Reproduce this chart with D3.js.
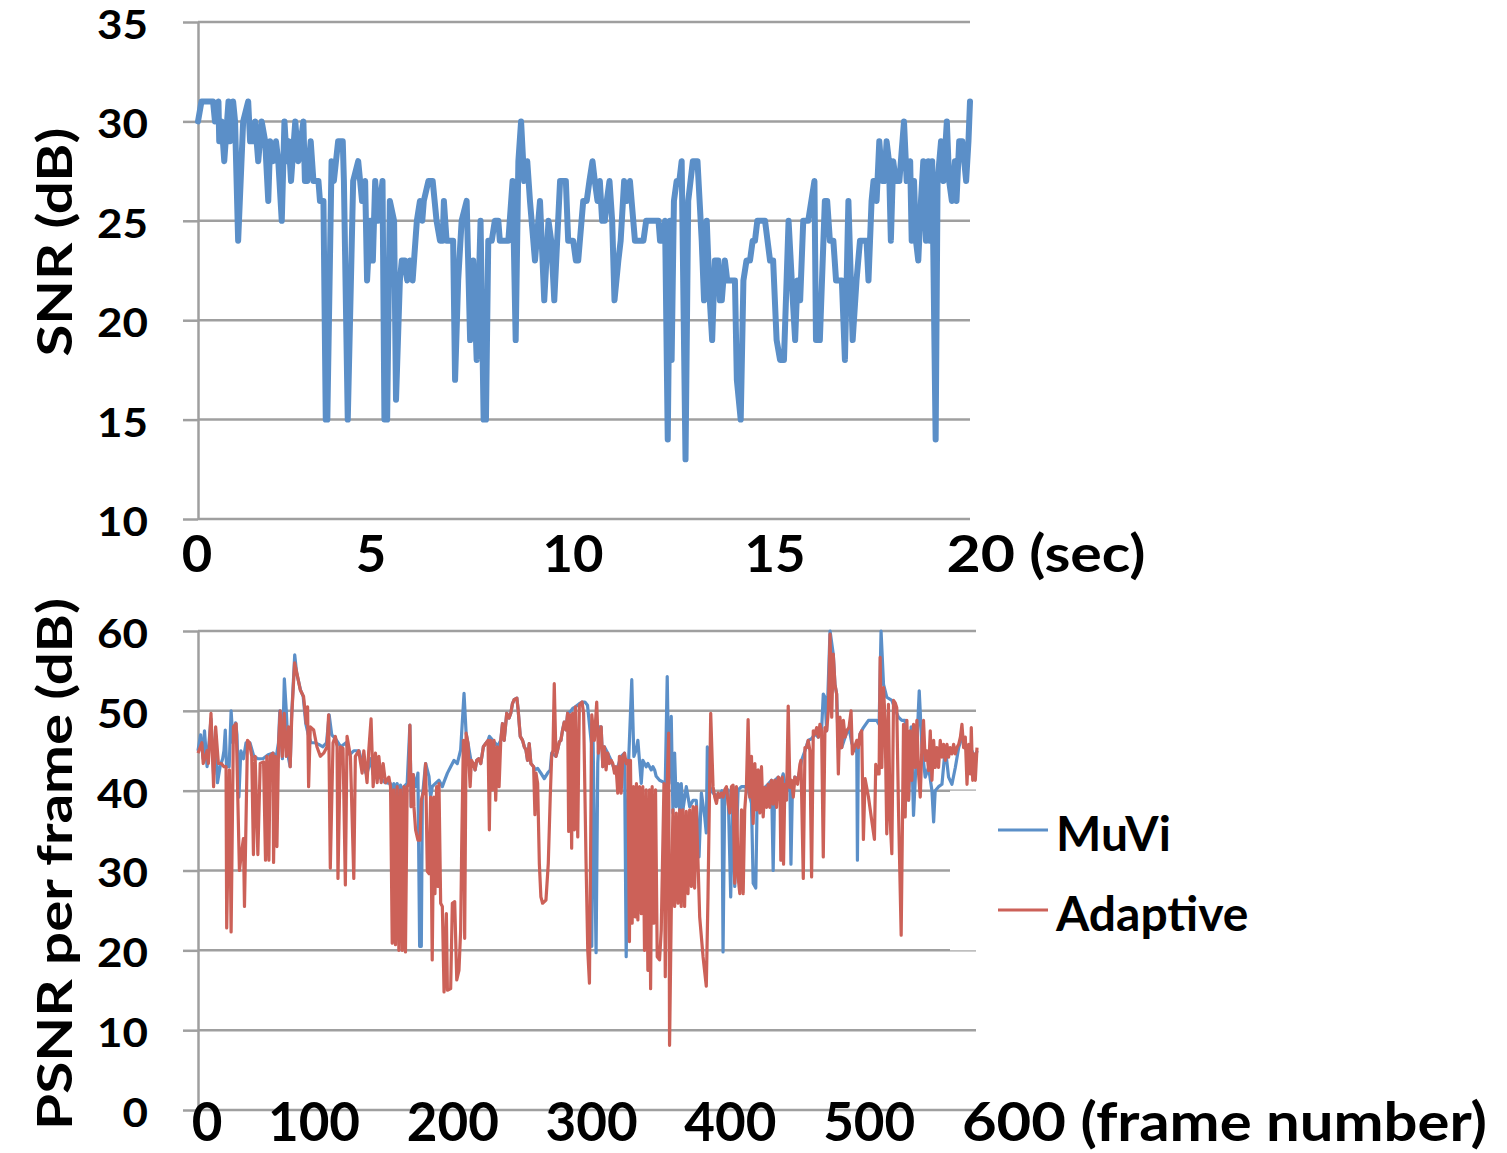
<!DOCTYPE html>
<html>
<head>
<meta charset="utf-8">
<script src="https://cdn.jsdelivr.net/npm/d3@7"></script>
<style>
  body { margin: 0; background: #fff; }
  text { font-family: Lato, "Open Sans", sans-serif; font-weight: 700; fill: #000; }
</style>
</head>
<body>
<script>
// ---- data ----
// SNR per time, [sec, dB]
const snrSeries = [
  [0,30],[0.09,31],[0.39,31],[0.44,30],[0.53,31],[0.55,29],[0.61,30],[0.68,28],[0.79,31],[0.83,29],[0.91,31],[0.96,30],
  [1.04,24],[1.17,30],[1.3,31],[1.35,29],[1.42,29],[1.48,30],[1.56,28],[1.65,30],[1.74,29],[1.82,26],[1.87,29],[1.95,28],
  [2.02,29],[2.08,28],[2.17,25],[2.24,30],[2.3,28],[2.35,29],[2.41,27],[2.52,30],[2.6,28],[2.73,30],[2.77,27],[2.83,27],
  [2.92,29],[2.99,27],[3.12,27],[3.16,26],[3.25,26],[3.31,15],[3.35,15],[3.46,28],[3.52,27],[3.63,29],[3.75,29],[3.78,27],
  [3.88,15],[4.02,27],[4.15,28],[4.2,27],[4.25,26],[4.33,27],[4.38,22],[4.46,25],[4.53,23],[4.59,27],[4.67,25],[4.78,27],
  [4.83,15],[4.9,15],[4.97,26],[5.08,25],[5.13,16],[5.23,22],[5.28,23],[5.36,23],[5.42,22],[5.49,23],[5.56,22],[5.67,25],
  [5.75,26],[5.81,25],[5.85,26],[5.97,27],[6.08,27],[6.18,25],[6.27,24],[6.34,24],[6.37,26],[6.44,24],[6.61,24],[6.66,17],
  [6.74,22],[6.83,25],[6.96,26],[7.05,19],[7.13,23],[7.22,18],[7.32,25],[7.4,15],[7.46,15],[7.52,24],[7.61,24],[7.69,25],
  [7.78,25],[7.82,24],[8.04,24],[8.15,27],[8.23,19],[8.3,28],[8.37,30],[8.45,27],[8.53,28],[8.6,26],[8.73,23],[8.86,26],
  [8.97,21],[9.08,25],[9.15,24],[9.23,21],[9.38,27],[9.53,27],[9.59,24],[9.72,24],[9.79,23],[9.85,23],[9.98,26],[10.07,26],
  [10.14,27],[10.22,28],[10.28,27],[10.35,26],[10.41,27],[10.47,25],[10.54,25],[10.59,26],[10.66,27],[10.73,25],[10.79,21],
  [10.89,23],[10.95,24],[11.04,27],[11.11,26],[11.19,27],[11.32,24],[11.45,24],[11.54,24],[11.61,25],[11.93,25],[11.97,24],
  [12.04,24],[12.1,25],[12.17,14],[12.23,25],[12.27,18],[12.33,26],[12.4,27],[12.47,27],[12.53,28],[12.63,13],[12.7,26],
  [12.82,28],[12.94,28],[13.05,24],[13.11,21],[13.18,25],[13.26,21],[13.32,19],[13.39,23],[13.48,23],[13.52,21],[13.57,21],
  [13.65,23],[13.71,22],[13.91,22],[13.96,17],[14.06,15],[14.13,22],[14.21,23],[14.3,23],[14.37,24],[14.43,24],[14.49,25],
  [14.69,25],[14.82,23],[14.9,23],[14.99,19],[15.08,18],[15.18,18],[15.3,25],[15.41,21],[15.47,19],[15.53,22],[15.6,21],
  [15.68,25],[15.81,25],[15.97,27],[16.01,19],[16.11,19],[16.24,26],[16.3,26],[16.37,24],[16.46,24],[16.53,22],[16.68,22],
  [16.76,18],[16.85,26],[16.96,19],[17.06,22],[17.15,24],[17.32,24],[17.37,22],[17.45,26],[17.5,27],[17.58,26],[17.65,29],
  [17.73,27],[17.78,27],[17.84,29],[17.9,28],[17.95,24],[18.01,28],[18.08,27],[18.17,27],[18.29,30],[18.36,27],[18.45,28],
  [18.49,24],[18.55,27],[18.6,24],[18.66,23],[18.73,26],[18.79,28],[18.86,24],[18.92,28],[18.96,24],[19.02,28],[19.11,14],
  [19.16,27],[19.25,29],[19.31,27],[19.4,30],[19.46,27],[19.53,26],[19.61,28],[19.65,26],[19.72,29],[19.8,29],[19.9,27],
  [19.96,29],[20,31]
];

// PSNR per frame, [frame, dB]
const muviSeries = [
  [0,45],[2,47],[4,44],[5,47.5],[7,43],[8,45],[10,49],[12,42],[13.6,47],[15,41],[17,43],[19,44],[20,45],[21,47.6],[22,43],
  [24,43],[25.5,50],[27,46],[29,48.5],[30,47],[31.5,39.2],[33,45],[35,44],[37,46],[40,46],[43,44.3],[46,44],[50,44],[54,44.5],
  [58,44.7],[60,44],[62,46],[63,50],[65,44],[66.5,54],[68,50],[69.8,44],[71,43],[72,49],[74.5,57],[76,54.7],[79,52.6],
  [81,51.8],[83,48.4],[85,47],[87,46],[90,46],[93,45.8],[96,45.5],[99,46],[101,49.5],[103,47],[106,46.5],[110,45.5],[114,46],
  [117,44.5],[120,45],[124,45],[127,43],[130,42],[133,44],[135,42],[138,42],[141,41.5],[144,41],[148.3,40.9],[149.6,37.6],
  [150.8,40.9],[152.1,38.8],[153.4,40.9],[154.7,38.8],[156,40.7],[157.3,38.8],[158.6,40.5],[161.1,40.9],[163.2,48.2],
  [164.2,38],[165.8,42],[167.6,40.5],[169.4,42.2],[170.7,20.5],[172,20.5],[172.8,39.2],[175.3,43.4],[177.9,41.8],[179.2,39.2],
  [180.4,40.5],[182.9,40.9],[185.6,41.3],[188.2,40.5],[189.5,41.1],[192.1,42.2],[194.6,43],[197.2,43.8],[199.7,43.4],
  [202.3,45.1],[204.9,52.2],[206.5,47.2],[208,45.9],[210.6,43.4],[212.1,43.4],[213.4,42.6],[214.7,43.8],[216.2,44],
  [217.8,43.4],[219.8,45.5],[221.6,45.9],[223.4,46.3],[224.4,46.8],[227,46.3],[229.3,45.9],[230.6,45.5],[233.2,46.3],
  [234.5,48.4],[235.8,46.3],[237.8,49.7],[239.6,49.1],[240.9,49.7],[242.2,50.9],[243.5,51.4],[245.6,51.6],[246.6,50.1],
  [248.2,46.8],[250,46.3],[251.3,45.5],[252.6,45.1],[253.8,43.8],[255.1,45.9],[256.4,43.4],[258.5,43],[259.5,42.6],
  [261.6,42.8],[264.1,42.2],[266.7,41.5],[269.3,42.2],[271.3,42.6],[272.4,44.7],[275.7,44.3],[277,45.1],[278.3,46.1],
  [279.5,46.3],[280.8,47.6],[282.1,48.6],[283.4,47.6],[284.7,49.7],[286.8,49.9],[288.6,50.3],[290.7,50.5],[293.7,50.9],
  [295.8,51.1],[298,51.1],[300,50.7],[303,45.9],[303.3,20.5],[304.3,46.3],[306.6,19.7],[307.9,43.4],[309.2,48],[310.5,48],
  [311.8,43],[313,45.5],[315.6,44.7],[318.2,43.8],[320.8,42.6],[323.3,43],[325.9,44.3],[328.5,44.7],[329.8,19.2],[331.6,43.4],
  [334.1,53.9],[335.7,44.3],[337.5,45.1],[338.8,46.3],[341.4,40.9],[342.6,43.8],[345.2,43],[346.5,43.4],[349.1,42.6],
  [350.4,43],[351.7,42.6],[352.9,41.8],[355.5,41.3],[358.1,41.1],[359.9,40.9],[361.4,54.3],[362.7,40.9],[364.5,49.3],
  [365.8,37.2],[367.1,44.7],[368.4,38],[369.7,40.9],[371,37.6],[372.2,40.9],[373.5,37.6],[376.1,40.5],[378.7,38],[381.3,38.8],
  [383.8,38.8],[385.9,31.7],[387.7,39.7],[390.3,36.7],[391.5,34.7],[392.3,45.5],[394.1,40.5],[396.7,39.7],[401.8,39.2],
  [403.6,40],[404.4,19.8],[405.7,39.7],[408.3,40.1],[410.3,26.7],[412.1,40.5],[413.4,28],[416,40.1],[418.6,40.5],[421.1,40.5],
  [423.7,40.1],[426.3,38.4],[427.6,28.4],[429.6,27.8],[430.9,40.9],[434,39.2],[436.6,40.4],[439.1,40.8],[441.7,41.3],[443,30],
  [444.3,41.3],[446.9,41.7],[448.9,41],[450.7,42.1],[453.3,40],[455.9,40.4],[456.7,30.8],[457.7,39.2],[459.7,41.7],
  [462.3,41.5],[464.9,43.8],[467.5,45],[470,46.3],[472.6,46.5],[475.2,47.1],[477.8,46.7],[480.3,47.5],[481.6,52.1],
  [482.9,51.7],[484.2,47.5],[486.8,60],[489.3,57.1],[490.6,53.3],[491.9,52.1],[493.2,45.4],[495.8,45.4],[498.4,46.7],
  [501.4,47.9],[503.5,46],[506.1,45],[507.4,45.4],[507.9,31.3],[508.6,45.4],[509.9,47.1],[512.5,47.9],[516.4,48.8],
  [518.9,48.8],[522.8,48.8],[524.6,48.3],[526.1,60],[528,53.3],[530.5,51.7],[534.4,51.3],[539.5,49.2],[542.1,48.8],
  [544.7,48.8],[547.3,38.8],[549.3,48],[551.1,36.9],[552.9,42.9],[555.5,52.5],[557.6,45.4],[560.1,41.7],[562.7,42.9],
  [565.3,40],[566.6,36.1],[567.8,40],[570.4,40.5],[573,40.8],[575.6,45.4],[578.1,41.7],[580.7,40.8],[583.3,42.9],
  [585.9,45.4],[588.4,46.7],[591,45.4],[593.6,44.6],[596,45],[598.7,44],[600,45]
];

const adaptiveSeries = [
  [0,44.7],[3,46],[4,43.4],[7,45],[8,43.4],[10,49.7],[12,40.5],[13.6,48],[15.7,43.4],[18,43.4],[20,43],[21.6,43],[22.1,22.8],
  [24.2,42.6],[25.5,22.3],[27.3,48],[29.4,48.4],[31.9,30],[33.7,32.5],[35,34],[35.8,25.5],[38.1,46.3],[39.6,46],[41.4,44.3],
  [42.7,32],[44,44.3],[46.1,32],[47.9,43.4],[50.5,43.6],[52,31.3],[53,44.3],[54.6,31.3],[55.6,44.3],[57.7,44.7],[58.2,31],
  [59.5,44.3],[60.8,33],[62.1,46],[63.3,50],[64.9,44.3],[66.4,49.7],[68,44.3],[69.8,48],[71,43],[72.3,49.7],[74.4,56],
  [76.2,54.7],[78.8,52.6],[81.3,51.8],[83.4,48.4],[84.4,50.5],[85.2,40.5],[86.5,48],[89.1,47.6],[91.6,45.5],[94.2,44.3],
  [96.8,44.7],[99.4,45.5],[100.6,49.5],[101.9,30.3],[104,46],[105.8,46.8],[107.1,45.5],[107.8,29],[109.7,45.5],[111.7,45.3],
  [113.5,28.2],[114.8,46.8],[117.4,44.3],[120,29],[121.2,44.3],[123.8,45],[126.4,42.2],[127.7,45],[130.2,41],[131.5,45],
  [133.3,49],[134.9,40.5],[136.7,44.7],[138,41],[139.3,44.3],[141.1,41],[142.6,43.4],[144.4,41],[147,41.7],[148.3,40.5],
  [149.6,20.9],[150.8,40.1],[152.1,20.7],[153.4,40.5],[154.7,20],[156,40.1],[157.3,20],[158.6,40.5],[159.8,19.8],[161.1,40.5],
  [162.4,40.9],[163.2,48.2],[164.2,38],[165.8,42],[166.3,38],[167.6,35.1],[169.4,33.8],[171,33.8],[172,38.8],[174,40.1],
  [175.3,43.4],[176.6,29.9],[177.9,29.6],[179.2,39.2],[180.4,18.8],[181.7,39.2],[182.5,27.1],[183.8,40.5],[184.8,28],
  [185.6,40.9],[186.9,25.9],[188.2,25.5],[189.5,14.8],[191.3,24.6],[192.1,15],[194.6,15.2],[195.9,25.9],[197.7,26.1],
  [199.3,16.3],[201,17.5],[202.3,22.5],[203.1,33],[204.4,46.3],[205.4,21.5],[206.5,47.2],[208,45.9],[209.6,40.5],[210.6,43.8],
  [212.1,43.4],[213.4,42.6],[214.7,43.8],[216.2,44],[217.8,43.4],[219.8,45.5],[221.6,45.9],[223.4,46.3],[224.4,35.1],
  [225.4,46.3],[226.7,40.1],[228,46.3],[229.3,38.8],[230.6,45.5],[231.9,40.5],[233.2,46.3],[234.5,48.4],[235.8,46.3],
  [237.8,49.7],[239.6,49.1],[240.9,49.7],[242.2,50.9],[243.5,51.4],[245.6,51.6],[246.6,50.1],[248.2,46.8],[250,46.3],
  [251.3,45.5],[252.6,45.1],[253.8,43.8],[255.1,45.9],[256.4,43.4],[258.5,43],[259.5,37],[260.3,42.2],[261.6,40.9],
  [262.9,30.9],[264.1,26.7],[265.4,25.9],[268,26.3],[269.8,30.9],[271.3,39.2],[272.4,44.3],[273.4,45.1],[274.4,53.4],
  [275.7,44.3],[277,45.1],[278.3,46.1],[279.5,46.3],[280.8,47.6],[282.1,48.6],[283.4,47.6],[284.7,49.7],[285.5,34.9],
  [286.8,49.5],[287.8,32.8],[288.6,49.7],[289.9,35.1],[290.7,50.5],[292.5,34.2],[293.7,50.7],[295.8,51.1],[297,49.7],
  [298.9,30.9],[300.2,20],[301.5,15.9],[303.3,49.5],[305.3,46.3],[307.1,51.1],[308.4,44.7],[310.5,48],[311.8,43],[313,45.5],
  [314.3,42.6],[315.6,44.7],[316.9,43.4],[318.2,43.8],[319.5,43.4],[320.8,42.2],[322,43],[323.3,39.7],[324.6,44.3],
  [325.9,39.7],[327.2,44.3],[328.5,44.7],[329.8,43.4],[331.1,43.8],[332.3,21.1],[333.1,43.8],[334.4,23.4],[335.4,40.5],
  [336.7,24.2],[337.7,40.9],[338.8,23.8],[340.1,40.5],[341.4,24.6],[342.6,40.5],[343.9,20],[345.2,40.1],[346.5,17.5],
  [347.8,40.1],[348.6,15.2],[349.8,40.5],[351.1,23.4],[352.4,40.1],[353.7,19.2],[355.5,18.8],[356.8,22.5],[358.9,40.9],
  [359.9,16.7],[361.4,40.9],[362.5,47.2],[363.2,8.1],[364.5,24.6],[365.8,37.6],[367.1,25.5],[368.4,37.2],[369.7,25.9],
  [371,37.6],[372.2,25.5],[373.5,37.6],[374.8,25.5],[376.1,37.4],[377.4,27.1],[378.7,37.6],[380,28],[381.3,38],[382.5,27.8],
  [383.8,38],[386.4,24.2],[389,19.2],[391.5,15.5],[392.8,26.7],[394.9,49.7],[396.7,40.5],[398,39.2],[399.3,38.4],[400.6,39.7],
  [401.8,39.2],[403.1,39.7],[404.4,39.2],[405.7,40.1],[407,40.5],[408.3,38.4],[409.6,37.2],[410.9,40.5],[412.1,40.7],
  [413.4,28.4],[414.7,40.5],[416,29.2],[417.3,27.1],[418.6,37.6],[419.9,27.1],[421.1,37.6],[422.4,40.5],[423.7,48.9],
  [425,39.2],[426.3,44.3],[427.6,35.9],[428.9,43.4],[430.2,37.6],[431.4,42.6],[432.7,37.2],[434,43],[435.3,36.7],[436.6,40.4],
  [437.9,37.9],[439.1,40.8],[440.4,37.9],[441.7,41.3],[443,38.3],[444.3,41.3],[445.6,37.9],[446.9,41.7],[448.2,41.3],
  [448.9,31.3],[450,41.7],[451,30.8],[452,40.8],[453.3,38.8],[454.6,50.6],[455.9,40.4],[457.2,41.3],[458.5,39.2],[459.7,41.7],
  [461.8,40.8],[463.6,43.3],[464.4,43.8],[466.2,29],[467.5,45.4],[468.7,45.4],[470,46.3],[471.3,45],[472.6,29.2],[473.9,47.5],
  [475.2,47.1],[476.5,47.9],[477.8,46.7],[479,48.3],[480.3,47.5],[481.6,31.7],[482.9,47.9],[484.2,47.5],[485.5,50],
  [486.8,59.6],[488.1,49.2],[489.3,57.1],[490.6,53.3],[491.9,52.1],[493.2,42.1],[494.5,49.2],[495.8,45.4],[497.1,48.8],
  [498.4,46.7],[499.6,47.5],[501.4,47.9],[503,50],[504,44.6],[505.6,45.4],[507.4,46.3],[508.6,45.4],[509.9,47.1],[511.2,47.5],
  [512.5,33.9],[513.8,41.5],[516.4,39.2],[518.9,36.3],[521,33.9],[522,43.3],[523.6,42.1],[524.6,42.1],[525.4,56.7],
  [526.7,42.9],[528,52.9],[529.2,48.8],[530.5,34.6],[531.8,50.8],[533.1,36.3],[534.4,32.1],[535.7,51.3],[537,51],[538.2,50.4],
  [539.5,37.9],[541.6,21.9],[542.6,36.3],[543.4,48.3],[544.7,36.7],[546,48.8],[547.3,38.8],[548.5,47.5],[549.8,41.3],
  [551.1,48.3],[552.4,42.9],[553.7,48.8],[555,42.1],[556.3,39.2],[557.6,45.8],[558.8,48.8],[560.1,43.8],[561.4,45],
  [562.7,42.5],[564,47.5],[565.3,41.3],[566.6,46.3],[567.8,42.9],[569.1,45.4],[570.4,42.9],[571.7,46.3],[573,44.2],
  [574.3,45.8],[575.6,43.8],[576.9,45.8],[578.1,44.2],[579.4,45.4],[580.7,44.6],[582,45.8],[583.3,44.6],[584.6,45.4],
  [585.9,45.8],[587.2,46.7],[588.4,48.3],[589.7,45.4],[591,46.7],[592.3,40.8],[593.6,45.8],[594.9,42.1],[595.6,47.9],
  [596.7,41.3],[597.7,44.6],[598.7,41.3],[600,45.4]
];

const snrTicks = [10, 15, 20, 25, 30, 35];
const psnrTicks = [0, 10, 20, 30, 40, 50, 60];
const secLabels = [0, 5, 10, 15, 20];
const frameLabels = [0, 100, 200, 300, 400, 500, 600];
const seriesNames = ['MuVi', 'Adaptive'];

// ---- look ----
const GRID = '#9f9f9f';
const COLORS = { MuVi: '#5b8fc8', Adaptive: '#cc6158' };
const DIGIT_W = 25.5;   // tick digits are drawn wide, like the stretched Calibri of the original

const svg = d3.select('body').append('svg')
  .attr('width', 1507)
  .attr('height', 1153);

// Gridlines plus a left axis with outside tick marks and big bold labels.
function drawFrame(x, y, ticks, gridRight) {
  const g = svg.append('g');

  g.selectAll('.grid').data(ticks).enter().append('line')
    .attr('class', 'grid')
    .attr('x1', x.range()[0])
    .attr('x2', gridRight)
    .attr('y1', (d) => y(d))
    .attr('y2', (d) => y(d))
    .style('stroke', GRID)
    .style('stroke-width', 2.5);

  const axis = g.append('g')
    .attr('transform', `translate(${x.range()[0]},0)`)
    .call(d3.axisLeft(y).tickValues(ticks).tickSize(15).tickSizeOuter(0).tickPadding(35));

  axis.select('.domain').style('stroke', GRID).style('stroke-width', 2.5);
  axis.selectAll('.tick line').style('stroke', GRID).style('stroke-width', 2.5);
  axis.selectAll('.tick text')
    .attr('dy', '0.4em')
    .attr('textLength', (d) => String(d).length * DIGIT_W)
    .attr('lengthAdjust', 'spacingAndGlyphs')
    .style('font-size', '41px')
    .style('font-family', 'Lato, sans-serif')
    .style('font-weight', 700)
    .style('fill', '#000');
  return g;
}

function drawTitle(label, cx, cy, len) {
  svg.append('text')
    .attr('transform', `translate(${cx},${cy}) rotate(-90)`)
    .attr('text-anchor', 'middle')
    .attr('textLength', len)
    .attr('lengthAdjust', 'spacingAndGlyphs')
    .style('font-size', '48px')
    .text(label);
}

// Hand-placed label row under an axis: centre of each number from `centerX`,
// the unit text trailing the last one; whole label forced to the measured width.
function drawLabelRow(labels, centerX, minCenter, baseline, size, digitW, unit, lastWidth) {
  const last = labels.length - 1;
  svg.selectAll(null).data(labels).enter().append('text')
    .attr('x', (d) => Math.max(centerX(d), minCenter) - (String(d).length * digitW) / 2)
    .attr('y', baseline)
    .attr('textLength', (d, i) => (i === last ? lastWidth : String(d).length * digitW))
    .attr('lengthAdjust', 'spacingAndGlyphs')
    .style('font-size', `${size}px`)
    .text((d, i) => (i === last ? `${d} ${unit}` : d));
}

// ---- top panel: SNR over time ----
const xSec = d3.scaleLinear().domain([0, 20]).range([198, 970]);
const ySnr = d3.scaleLinear().domain([10, 35]).range([519, 22]);

drawFrame(xSec, ySnr, snrTicks, 970);

svg.append('path')
  .datum(snrSeries)
  .attr('d', d3.line().x((d) => xSec(d[0])).y((d) => ySnr(d[1])))
  .style('fill', 'none')
  .style('stroke', COLORS.MuVi)
  .style('stroke-width', 6)
  .style('stroke-linejoin', 'round')
  .style('stroke-linecap', 'round');

const secLabelX = d3.scaleLinear().domain([5, 20]).range([371, 977]);
drawLabelRow(secLabels, secLabelX, 197, 572, 52, 30.5, '(sec)', 199);

drawTitle('SNR (dB)', 72, 242, 229);

// ---- bottom panel: PSNR per frame ----
const xFrame = d3.scaleLinear().domain([0, 600]).range([198, 977]);
const yPsnr = d3.scaleLinear().domain([0, 60]).range([1110, 631]);

drawFrame(xFrame, yPsnr, psnrTicks, 976);

// legend box sits over the right end of the grid
svg.append('rect')
  .attr('x', 950)
  .attr('y', yPsnr(40))
  .attr('width', 320)
  .attr('height', yPsnr(20) - yPsnr(40))
  .style('fill', '#fff');

const psnrLine = d3.line().x((d) => xFrame(d[0])).y((d) => yPsnr(d[1]));
const psnrData = { MuVi: muviSeries, Adaptive: adaptiveSeries };

svg.selectAll('.psnr').data(seriesNames).enter().append('path')
  .attr('class', 'psnr')
  .attr('d', (d) => psnrLine(psnrData[d]))
  .style('fill', 'none')
  .style('stroke', (d) => COLORS[d])
  .style('stroke-width', 3.2)
  .style('stroke-linejoin', 'round');

const frameLabelX = d3.scaleLinear().domain([100, 600]).range([314, 1008]);
drawLabelRow(frameLabels, frameLabelX, 207, 1141, 54, 30.7, '(frame number)', 525);

drawTitle('PSNR per frame (dB)', 72, 864, 532);

// legend
const legend = svg.selectAll('.legend').data(seriesNames).enter().append('g')
  .attr('class', 'legend')
  .attr('transform', (d, i) => `translate(998,${830 + i * 80})`);

legend.append('line')
  .attr('x2', 50)
  .style('stroke', (d) => COLORS[d])
  .style('stroke-width', 3);

legend.append('text')
  .attr('x', 58)
  .attr('y', 21)
  .style('font-size', '48px')
  .text((d) => d);
</script>
</body>
</html>
